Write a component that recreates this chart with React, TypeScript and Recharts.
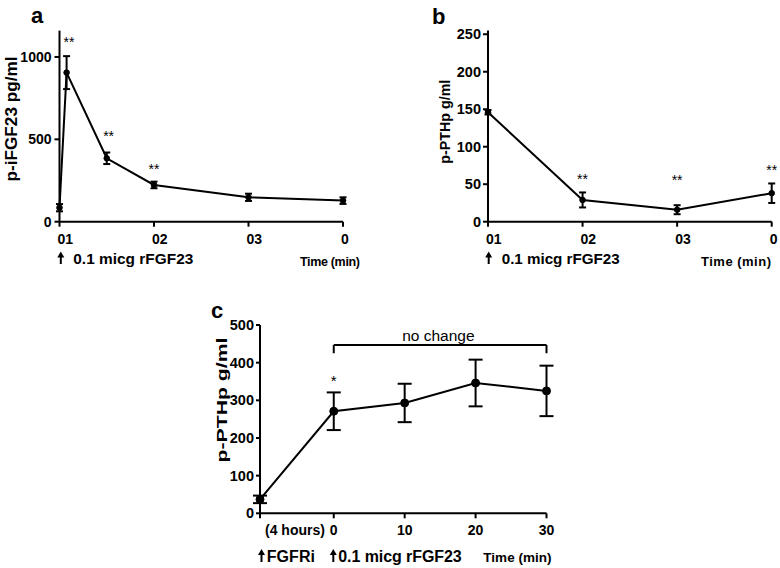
import React from "react";
import {
  LineChart, Line, XAxis, YAxis, ErrorBar, ReferenceDot, ReferenceLine,
} from "recharts";

// a: plasma iFGF23 after 0.1 micg rFGF23
const A_TIME = [0, 0.75, 5, 10, 20, 30];
const A_MEAN = [85, 905, 385, 223, 148, 128];
const A_ERR = [22, 100, 35, 20, 22, 20];
const A_STAR_TIME = [1, 5.2, 10];
const A_STAR_Y = [1090, 520, 318];

// b: plasma PTH after 0.1 micg rFGF23
const B_TIME = [0, 10, 20, 30];
const B_MEAN = [146, 29, 16, 38];
const B_ERR = [3, 10, 6, 13];
const B_STAR_TIME = [10, 20, 30];
const B_STAR_Y = [57, 55, 69];

// c: plasma PTH with FGFR inhibitor pretreatment
const C_TIME = [-10.4, 0, 10, 20, 30];
const C_MEAN = [37, 271, 293, 346, 325];
const C_ERR = [10, 50, 51, 62, 67];
const C_STAR_TIME = [0];
const C_STAR_Y = [352];
const C_BRACKET_Y = 447;
const C_BRACKET_FOOT = 425;

const AB_TICKS = [0, 10, 20, 30];
const AB_TICK_LABELS = ["01", "02", "03", "0"];
const C_TICKS = [-10.4, 0, 10, 20, 30];
const C_TICK_LABELS = ["(4 hours)", "0", "10", "20", "30"];
const A_Y_TICKS = [0, 500, 1000];
const B_Y_TICKS = [0, 50, 100, 150, 200, 250];
const C_Y_TICKS = [0, 100, 200, 300, 400, 500];

const FONT = "'Liberation Sans', Arial, Helvetica, sans-serif";
const axisStyle = { stroke: "#000", strokeWidth: 2 };

const toRows = (t: number[], m: number[], e: number[]) =>
  t.map((time, i) => ({ time, mean: m[i], err: e[i] }));

const AbTick = (props: any) => {
  const { x, y, payload } = props;
  const label = AB_TICK_LABELS[AB_TICKS.indexOf(payload.value)];
  return (
    <text x={x - 2} y={y} dy="0.71em" textAnchor="start" fontFamily={FONT}
      fontWeight="bold" fontSize={14} fill="#000">{label}</text>
  );
};

const CTick = (props: any) => {
  const { x, y, payload } = props;
  const i = C_TICKS.indexOf(payload.value);
  const first = i === 0;
  return (
    <text x={first ? x + 5 : x} y={y} dy="0.71em" textAnchor={first ? "start" : "middle"}
      fontFamily={FONT} fontWeight="bold" fontSize={14} fill="#000">{C_TICK_LABELS[i]}</text>
  );
};

const starLabel = (text: string, size: number) => ({
  value: text, position: "center" as const, fill: "#000", fontSize: size, fontFamily: FONT,
});

const Arrow = ({ x, y, h }: { x: number; y: number; h: number }) => (
  <g>
    <line x1={x} y1={y + 4} x2={x} y2={y + h} stroke="#000" strokeWidth={2} />
    <polygon points={`${x - 3.5},${y + 6} ${x + 3.5},${y + 6} ${x},${y}`} fill="#000" />
  </g>
);

function Panel(props: {
  width: number; height: number; margin: any; yWidth: number;
  data: any[]; xDomain: number[]; xTicks: number[]; tick: any;
  yDomain: number[]; yTicks: number[]; yFont: number; yTickSize: number; yTickMargin: number;
  dotR: number; capW: number; stars: { t: number; y: number }[]; starText: string; starSize: number;
  extra?: React.ReactNode;
}) {
  return (
    <LineChart width={props.width} height={props.height} data={props.data} margin={props.margin}>
      <XAxis dataKey="time" type="number" domain={props.xDomain} ticks={props.xTicks}
        tick={props.tick} axisLine={axisStyle} tickLine={axisStyle}
        tickSize={5} tickMargin={7} height={30} interval={0} />
      <YAxis type="number" domain={props.yDomain} ticks={props.yTicks} width={props.yWidth}
        axisLine={axisStyle} tickLine={axisStyle} tickSize={props.yTickSize} tickMargin={props.yTickMargin}
        interval={0}
        tick={{ fill: "#000", fontSize: props.yFont, fontWeight: "bold", fontFamily: FONT }} />
      <Line dataKey="mean" stroke="#000" strokeWidth={2} isAnimationActive={false}
        dot={{ r: props.dotR, fill: "#000", stroke: "#000", strokeWidth: 1 }}>
        <ErrorBar dataKey="err" direction="y" width={props.capW} stroke="#000" strokeWidth={2}
          isAnimationActive={false} />
      </Line>
      {props.stars.map((s, i) => (
        <ReferenceDot key={i} x={s.t} y={s.y} r={0} fill="none" stroke="none"
          label={starLabel(props.starText, props.starSize)} />
      ))}
      {props.extra}
    </LineChart>
  );
}

export default function App() {
  const dataA = toRows(A_TIME, A_MEAN, A_ERR);
  const dataB = toRows(B_TIME, B_MEAN, B_ERR);
  const dataC = toRows(C_TIME, C_MEAN, C_ERR);
  const starsA = A_STAR_TIME.map((t, i) => ({ t, y: A_STAR_Y[i] }));
  const starsB = B_STAR_TIME.map((t, i) => ({ t, y: B_STAR_Y[i] }));
  const starsC = C_STAR_TIME.map((t, i) => ({ t, y: C_STAR_Y[i] }));
  const bracketEnds = [C_TICKS[1], C_TICKS[C_TICKS.length - 1]];

  const txt = { fontFamily: FONT, fontWeight: "bold" as const, fill: "#000" };

  return (
    <div style={{ position: "absolute", left: 0, top: 0, width: 780, height: 568, background: "#fff" }}>
      <div style={{ position: "absolute", left: 0, top: 0 }}>
        <Panel width={390} height={270} margin={{ top: 30.6, right: 47, bottom: 18.3, left: 9.5 }}
          yWidth={50} data={dataA} xDomain={[0, 30]} xTicks={AB_TICKS} tick={<AbTick />}
          yDomain={[0, 1160]} yTicks={A_Y_TICKS} yFont={14} yTickSize={5} yTickMargin={3}
          dotR={2.8} capW={3.5} stars={starsA} starText="**" starSize={14} />
      </div>
      <div style={{ position: "absolute", left: 390, top: 0 }}>
        <Panel width={390} height={270} margin={{ top: 30.5, right: 8.3, bottom: 18.3, left: 38 }}
          yWidth={60} data={dataB} xDomain={[0, 30]} xTicks={AB_TICKS} tick={<AbTick />}
          yDomain={[0, 255]} yTicks={B_Y_TICKS} yFont={14.5} yTickSize={5} yTickMargin={2}
          dotR={2.8} capW={3.5} stars={starsB} starText="**" starSize={14} />
      </div>
      <div style={{ position: "absolute", left: 180, top: 270 }}>
        <Panel width={420} height={298} margin={{ top: 55, right: 53.5, bottom: 24.7, left: 20 }}
          yWidth={60} data={dataC} xDomain={[C_TICKS[0], 30]} xTicks={C_TICKS} tick={<CTick />}
          yDomain={[0, 500]} yTicks={C_Y_TICKS} yFont={14.5} yTickSize={4} yTickMargin={2}
          dotR={4} capW={7} stars={starsC} starText="*" starSize={15}
          extra={[
            <ReferenceLine key="bar" segment={[{ x: bracketEnds[0], y: C_BRACKET_Y }, { x: bracketEnds[1], y: C_BRACKET_Y }]}
              stroke="#000" strokeWidth={2} />,
            ...bracketEnds.map((x) => (
              <ReferenceLine key={`foot${x}`} segment={[{ x, y: C_BRACKET_Y }, { x, y: C_BRACKET_FOOT }]}
                stroke="#000" strokeWidth={2} />
            )),
            <ReferenceDot key="nc" x={14.75} y={473} r={0} fill="none" stroke="none"
              label={{ value: "no change", position: "center", fill: "#000", fontSize: 15.5, fontFamily: FONT }} />,
          ]} />
      </div>

      <svg width={780} height={568} style={{ position: "absolute", left: 0, top: 0, pointerEvents: "none" }}>
        <text x={31} y={23} fontSize={22} {...txt}>a</text>
        <text x={432} y={24} fontSize={22} {...txt}>b</text>
        <text x={211} y={318} fontSize={22} {...txt}>c</text>

        <text x={16.6} y={119} fontSize={16} textAnchor="middle" textLength={125} lengthAdjust="spacingAndGlyphs"
          transform="rotate(-90 16.6 119)" {...txt}>p-iFGF23 pg/ml</text>
        <text x={450.4} y={121.7} fontSize={14.5} textAnchor="middle" textLength={84} lengthAdjust="spacingAndGlyphs"
          transform="rotate(-90 450.4 121.7)" {...txt}>p-PTHp g/ml</text>
        <text x={227} y={400} fontSize={15.5} textAnchor="middle" textLength={125} lengthAdjust="spacingAndGlyphs"
          transform="rotate(-90 227 400)" {...txt}>p-PTHp g/ml</text>

        <Arrow x={60.8} y={251.5} h={12.5} />
        <text x={73.3} y={264} fontSize={15.4} textLength={120} {...txt}>0.1 micg rFGF23</text>
        <text x={300} y={266} fontSize={12.5} textLength={60} {...txt}>Time (min)</text>

        <Arrow x={488.7} y={251.5} h={12.5} />
        <text x={501.7} y={264} fontSize={15.2} textLength={118} {...txt}>0.1 micg rFGF23</text>
        <text x={701} y={266} fontSize={13} textLength={70} {...txt}>Time (min)</text>

        <Arrow x={261.5} y={549} h={13} />
        <text x={266.7} y={561.7} fontSize={16} textLength={48.3} {...txt}>FGFRi</text>
        <Arrow x={333.3} y={549} h={13} />
        <text x={338.3} y={561.7} fontSize={16} textLength={123.4} {...txt}>0.1 micg rFGF23</text>
        <text x={483.3} y={562} fontSize={13.5} textLength={68.3} {...txt}>Time (min)</text>
      </svg>
    </div>
  );
}
